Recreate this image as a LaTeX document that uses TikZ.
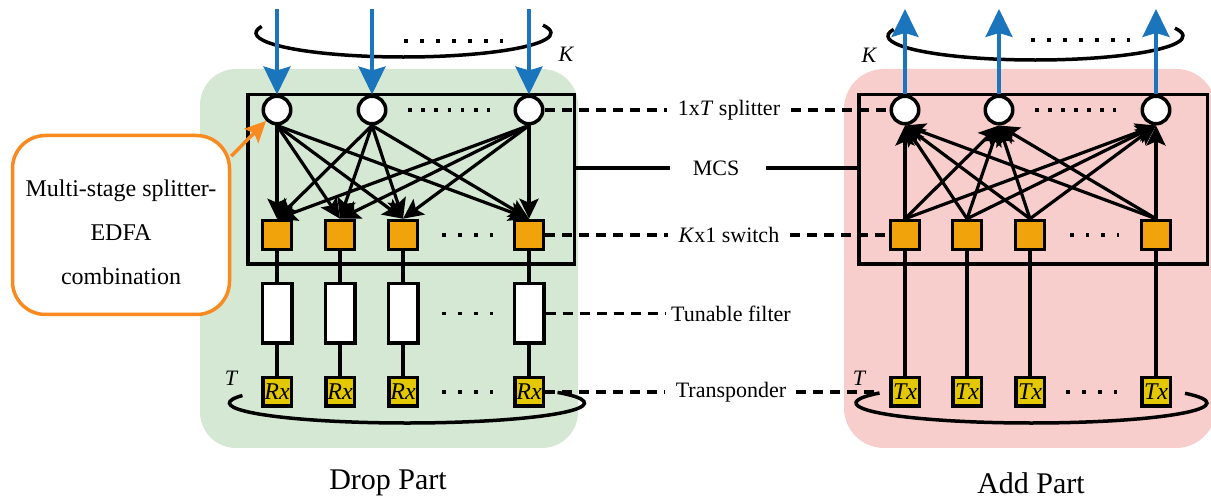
\documentclass[tikz,border=0pt]{standalone}
\usepackage{fontspec}
\setmainfont{Liberation Serif}
\usetikzlibrary{arrows.meta,calc}
\definecolor{greenbg}{HTML}{D5E8D4}
\definecolor{pinkbg}{HTML}{F8CECC}
\definecolor{orangesq}{HTML}{F0A30A}
\definecolor{yellowbx}{HTML}{E3C800}
\definecolor{bluearr}{HTML}{1B75BC}
\definecolor{orangeln}{HTML}{F98A1F}
\begin{document}
\begin{tikzpicture}[x=1pt,y=1pt,
  splitter/.style={circle,draw,fill=white,line width=3.5pt,minimum size=27.5pt,inner sep=0pt},
  switchbox/.style={rectangle,draw,fill=orangesq,line width=3.5pt,minimum size=29pt,inner sep=0pt},
  filterbox/.style={rectangle,draw,fill=white,line width=3.5pt,minimum width=29.5pt,minimum height=59.5pt,inner sep=0pt},
  trxbox/.style={rectangle,draw,fill=yellowbx,line width=3.5pt,minimum size=28.5pt,inner sep=0pt,font=\fontsize{24}{24}\selectfont\itshape},
  mcsbox/.style={rectangle,draw,line width=3.5pt,inner sep=0pt},
  link/.style={line width=3.5pt},
  conn/.style={line width=3.2pt,-{Stealth[length=20pt,width=19pt,inset=4pt]}},
  bluearrow/.style={draw=bluearr,line width=3.2pt,-{Stealth[length=28pt,width=27pt,inset=4pt]}},
  dashln/.style={line width=3.5pt,dash pattern=on 10pt off 7pt},
  dotrow/.style={line width=3.5pt,dash pattern={on 3.5pt off #1}},
  lbl/.style={inner sep=0pt,font=\fontsize{22}{22}\selectfont},
  var/.style={inner sep=0pt,font=\fontsize{22}{22}\selectfont\itshape},
  partlbl/.style={inner sep=0pt,font=\fontsize{30}{30}\selectfont},
  callout/.style={rectangle,draw=orangeln,fill=white,line width=3.5pt,rounded corners=33pt,minimum width=217pt,minimum height=179pt,inner sep=0pt},
  orangearrow/.style={draw=orangeln,line width=3.5pt,-{Stealth[length=21pt,width=20pt,inset=4pt]}}
]
\useasboundingbox (0,0) rectangle (1211,-502);

% backgrounds
\fill[greenbg,rounded corners=36pt] (200,-69) rectangle (578,-448);
\fill[pinkbg,rounded corners=40pt] (844,-69) rectangle (1216,-448);

% callout
\node[callout] (callout) at (121,-225) {};
\node[inner sep=0pt,align=center,font=\fontsize{24}{44}\selectfont] (calloutText) at (121,-232)
  {Multi-stage splitter-\\EDFA\\combination};

% MCS boxes
\node[mcsbox,minimum width=326.5pt,minimum height=169.5pt] (mcsL) at (411,-179.5) {};
\node[mcsbox,minimum width=348.5pt,minimum height=169.5pt] (mcsR) at (1033,-179.5) {};

% group ellipses
\draw[link] (403.5,-33) ++(164:147.5pt and 24pt) arc[start angle=164,end angle=379,x radius=147.5pt,y radius=24pt];
\draw[link] (1035.5,-36) ++(164:147.5pt and 24pt) arc[start angle=164,end angle=379,x radius=147.5pt,y radius=24pt];
\draw[link] (407,-403) ++(158:177.5pt and 20pt) arc[start angle=158,end angle=392,x radius=177.5pt,y radius=20pt];
\draw[link] (1031.5,-403) ++(150:175.5pt and 20pt) arc[start angle=150,end angle=389,x radius=175.5pt,y radius=20pt];

% dots
\draw[dotrow=12.5pt] (404,-41) -- (503,-41);
\draw[dotrow=9.7pt] (408,-110) -- (490,-110);
\draw[dotrow=12.5pt] (442,-235) -- (493,-235);
\draw[dotrow=12.5pt] (442,-313.5) -- (493,-313.5);
\draw[dotrow=12.5pt] (442,-392) -- (493,-392);
\draw[dotrow=12.5pt] (1031,-40) -- (1130,-40);
\draw[dotrow=9.5pt] (1035,-110) -- (1116,-110);
\draw[dotrow=12.2pt] (1070,-235) -- (1119,-235);
\draw[dotrow=12.5pt] (1066,-392) -- (1117,-392);

% left (drop) nodes
\node[splitter] (cL1) at (277,-110) {};
\node[splitter] (cL2) at (372,-110) {};
\node[splitter] (cL3) at (529,-110) {};
\node[switchbox] (sL1) at (277,-235) {};
\node[switchbox] (sL2) at (340,-235) {};
\node[switchbox] (sL3) at (403,-235) {};
\node[switchbox] (sL4) at (529,-235) {};
\node[filterbox] (fL1) at (277,-313.5) {};
\node[filterbox] (fL2) at (340,-313.5) {};
\node[filterbox] (fL3) at (403,-313.5) {};
\node[filterbox] (fL4) at (529,-313.5) {};
\node[trxbox] (rxL1) at (277,-392) {Rx};
\node[trxbox] (rxL2) at (340,-392) {Rx};
\node[trxbox] (rxL3) at (403,-392) {Rx};
\node[trxbox] (rxL4) at (529,-392) {Rx};

% right (add) nodes
\node[splitter] (cR1) at (905,-110) {};
\node[splitter] (cR2) at (999,-110) {};
\node[splitter] (cR3) at (1156,-110) {};
\node[switchbox] (sR1) at (905,-235) {};
\node[switchbox] (sR2) at (967,-235) {};
\node[switchbox] (sR3) at (1030,-235) {};
\node[switchbox] (sR4) at (1156,-235) {};
\node[trxbox] (txR1) at (905,-392) {Tx};
\node[trxbox] (txR2) at (967,-392) {Tx};
\node[trxbox] (txR3) at (1030,-392) {Tx};
\node[trxbox] (txR4) at (1156,-392) {Tx};

% free ends of the fibre arrows
\coordinate (inL1) at (277,-9);
\coordinate (inL2) at (372,-9);
\coordinate (inL3) at (529,-9);
\coordinate (outR1) at (905,-9);
\coordinate (outR2) at (999,-9);
\coordinate (outR3) at (1156,-9);

\draw[bluearrow] (inL1) -- (cL1.north);
\draw[bluearrow] (inL2) -- (cL2.north);
\draw[bluearrow] (inL3) -- (cL3.north);
\draw[bluearrow] (cR1.north) -- (outR1);
\draw[bluearrow] (cR2.north) -- (outR2);
\draw[bluearrow] (cR3.north) -- (outR3);

% splitter-switch meshes
\foreach \c in {cL1,cL2,cL3}
  \foreach \s in {sL1,sL2,sL3,sL4}
    \draw[conn] (\c.south) -- (\s.north);
\foreach \c in {cR1,cR2,cR3}
  \foreach \s in {sR1,sR2,sR3,sR4}
    \draw[conn] (\s.north) -- (\c.south);

% vertical links
\foreach \i in {1,2,3,4} {
  \draw[link] (sL\i) -- (fL\i);
  \draw[link] (fL\i) -- (rxL\i);
  \draw[link] (txR\i) -- (sR\i);
}

% variable labels
\node[var] (kL) at (566,-54) {K};
\node[var] (kR) at (869,-55) {K};
\node[var] (tL) at (231,-378) {T};
\node[var] (tR) at (859,-378) {T};

% middle labels
\node[lbl] (lSplit) at (729,-110) {1x\textit{T} splitter};
\node[lbl] (lMCS) at (716,-168) {MCS};
\node[lbl] (lSwitch) at (729,-235) {\textit{K}x1 switch};
\node[lbl] (lFilter) at (731,-313.5) {Tunable filter};
\node[lbl] (lTrans) at (731,-392) {Transponder};

\draw[dashln,shorten >=11pt] (cL3.east) -- (lSplit.west);
\draw[dashln,shorten <=11pt] (lSplit.east) -- (cR1.west);
\draw[dashln,shorten >=11pt] (sL4.east) -- (lSwitch.west);
\draw[dashln,shorten <=11pt] (lSwitch.east) -- (sR1.west);
\draw[dashln,shorten >=6pt] (fL4.east) -- (lFilter.west);
\draw[dashln,shorten >=11pt] (rxL4.east) -- (lTrans.west);
\draw[dashln,shorten <=10pt,shorten >=8pt] (lTrans.east) -- (txR1.west);
\draw[link,shorten >=23pt] (mcsL.east |- lMCS.west) -- (lMCS.west);
\draw[link,shorten <=27pt] (lMCS.east) -- (mcsR.west |- lMCS.east);

% callout arrow
\draw[orangearrow] (callout.32.5) -- (cL1.south west);

% part titles
\node[partlbl] (dropPart) at (388,-483) {Drop Part};
\node[partlbl] (addPart) at (1031,-483) {Add Part};
\end{tikzpicture}
\end{document}
